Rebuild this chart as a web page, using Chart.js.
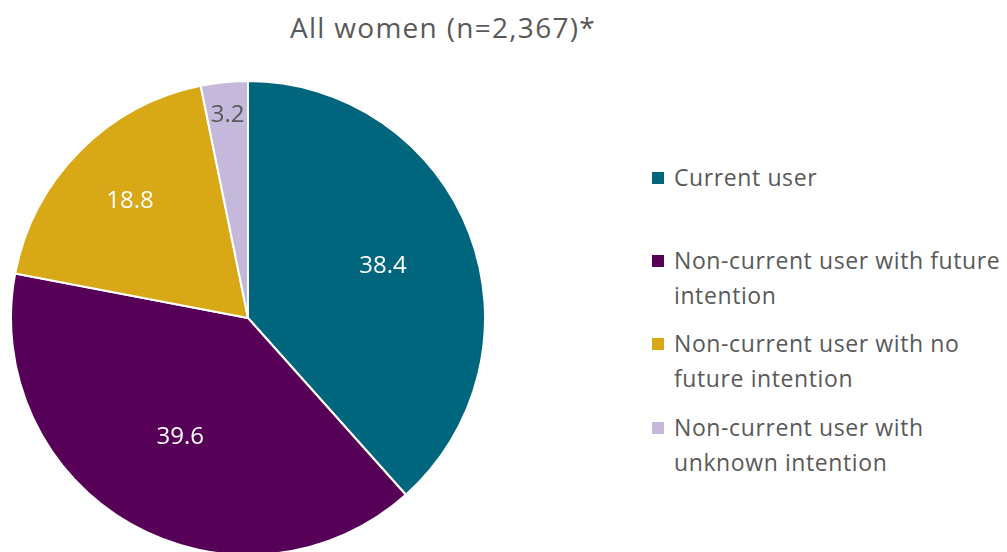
<!DOCTYPE html>
<html>
<head>
<meta charset="utf-8">
<script src="https://cdn.jsdelivr.net/npm/chart.js@4.4.0/dist/chart.umd.min.js"></script>
<style>
  html, body { margin: 0; padding: 0; background: #fff; overflow: hidden; }
  body { width: 1007px; height: 552px; position: relative; font-family: "Open Sans", sans-serif; color: #595959; }
  #title { position: absolute; left: 0; width: 886px; top: 8px; text-align: center; font-size: 28px; letter-spacing: 1.3px; }
  #pieBox { position: absolute; left: 10px; top: 80px; width: 476px; height: 476px; }
  #legend { position: absolute; left: 652px; top: 0; font-size: 23px; line-height: 35px; letter-spacing: 0.6px; }
  #legend .item { position: absolute; white-space: nowrap; }
  #legend .sw { position: absolute; left: 0; top: 12px; width: 12px; height: 12px; }
  #legend .txt { position: absolute; left: 22px; top: 0; }
</style>
</head>
<body>
<div id="title">All women (n=2,367)*</div>
<div id="pieBox"><canvas id="pie"></canvas></div>
<div id="legend"></div>
<script>
var categories = ['Current user', 'Non-current user with future intention', 'Non-current user with no future intention', 'Non-current user with unknown intention'];
var legendLines = [['Current user'], ['Non-current user with future', 'intention'], ['Non-current user with no', 'future intention'], ['Non-current user with', 'unknown intention']];
var shares = [38.4, 39.6, 18.8, 3.2];
var colours = ['#00667d', '#570057', '#d8a816', '#c4b9da'];
var labelColours = ['#ffffff', '#ffffff', '#ffffff', '#595959'];
var labelDist = [0.61, 0.58, 0.7, 0.86];
var legendTops = [160, 243, 326, 410];

// value labels inside each slice
var sliceLabels = {
  id: 'sliceLabels',
  afterDatasetsDraw: function(chart) {
    var ctx = chart.ctx;
    var meta = chart.getDatasetMeta(0);
    ctx.save();
    ctx.font = '24px "Open Sans", sans-serif';
    ctx.textAlign = 'center';
    ctx.textBaseline = 'middle';
    meta.data.forEach(function(arc, i) {
      var p = arc.getProps(['x', 'y', 'startAngle', 'endAngle', 'outerRadius'], true);
      var mid = (p.startAngle + p.endAngle) / 2;
      var r = p.outerRadius * labelDist[i];
      ctx.fillStyle = labelColours[i];
      ctx.fillText(shares[i].toFixed(1), p.x + Math.cos(mid) * r, p.y + Math.sin(mid) * r);
    });
    ctx.restore();
  }
};

new Chart(document.getElementById('pie'), {
  type: 'pie',
  data: {
    labels: categories,
    datasets: [{
      data: shares,
      backgroundColor: colours,
      borderColor: '#ffffff',
      borderWidth: 2
    }]
  },
  options: {
    responsive: true,
    maintainAspectRatio: false,
    animation: false,
    layout: { padding: 0 },
    plugins: {
      legend: { display: false },
      tooltip: { enabled: false }
    }
  },
  plugins: [sliceLabels]
});

var legend = document.getElementById('legend');
legendLines.forEach(function(lines, i) {
  var item = document.createElement('div');
  item.className = 'item';
  item.style.top = legendTops[i] + 'px';
  var sw = document.createElement('div');
  sw.className = 'sw';
  sw.style.background = colours[i];
  var txt = document.createElement('div');
  txt.className = 'txt';
  txt.innerHTML = lines.join('<br>');
  item.appendChild(sw);
  item.appendChild(txt);
  legend.appendChild(item);
});
</script>
</body>
</html>
